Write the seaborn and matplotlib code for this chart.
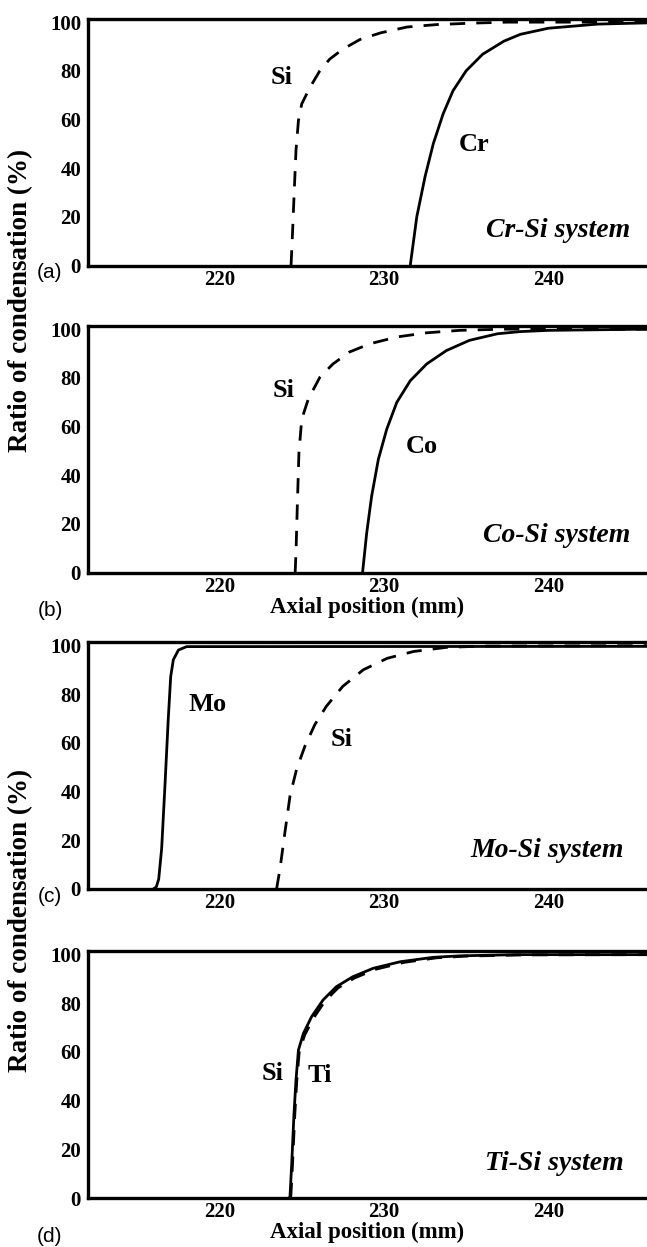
import matplotlib
matplotlib.use("Agg")
import matplotlib.pyplot as plt
from matplotlib.ticker import MultipleLocator
import pandas as pd
import seaborn as sns

# ---- condensation ratio (%) versus axial position (mm) ----
# (a) Cr-Si system
cr_x = [231.6, 232.0, 232.5, 233.0, 233.6, 234.2, 235.0, 236.0, 237.3, 238.3, 240.0, 243.0, 246.0]
cr_y = [0, 20.1, 36.5, 50.0, 62.3, 71.8, 80.0, 86.8, 92.2, 95.0, 97.5, 99.2, 99.7]
cr_si_x = [224.35, 224.45, 224.53, 224.65, 224.8, 225.0, 225.5, 226.1, 226.7, 227.5,
           228.55, 229.8, 231.4, 233.2, 235.4, 237.5, 246.0]
cr_si_y = [0, 15.0, 28.3, 47.3, 59.6, 66.4, 73.2, 80.0, 84.8, 88.9,
           92.9, 95.6, 98.0, 99.0, 99.6, 100.0, 100.0]

# (b) Co-Si system
co_x = [228.7, 228.95, 229.25, 229.66, 230.17, 230.78, 231.6, 232.6, 233.8, 235.2,
        236.9, 238.3, 240.0, 246.0]
co_y = [0, 16.2, 31.3, 46.5, 58.9, 69.9, 78.8, 85.7, 91.2, 95.4,
        98.1, 99.0, 99.5, 100.0]
co_si_x = [224.6, 224.65, 224.73, 224.83, 225.0, 225.4, 226.1, 226.9, 227.9, 229.15,
           230.8, 232.6, 234.6, 237.3, 246.0]
co_si_y = [0, 8.0, 27.2, 49.3, 63.0, 71.3, 80.2, 85.7, 90.6, 94.0,
           96.8, 98.5, 99.5, 100.0, 100.0]

# (c) Mo-Si system
mo_x = [215.97, 216.15, 216.3, 216.48, 216.68, 216.88, 217.03, 217.19, 217.5, 218.0, 246.0]
mo_y = [0, 0.8, 4.0, 16.6, 42.4, 69.7, 87.3, 94.2, 98.2, 99.6, 99.7]
mo_si_x = [223.47, 223.68, 223.98, 224.29, 224.69, 225.2, 225.8, 226.5, 227.5, 228.75,
           230.2, 231.8, 233.8, 236.0, 246.0]
mo_si_y = [0, 8.4, 23.4, 38.4, 49.3, 58.8, 67.6, 75.1, 83.3, 90.1,
           94.8, 97.6, 99.3, 99.8, 100.0]

# (d) Ti-Si system
ti_x = [224.25, 224.29, 224.39, 224.53, 224.65, 224.8, 225.1, 225.6, 226.3, 227.1,
        228.1, 229.35, 231.0, 233.0, 234.6, 238.0, 246.0]
ti_y = [0, 1.0, 14.0, 34.7, 48.4, 60.8, 67.6, 74.5, 81.4, 86.8,
        90.9, 94.4, 97.1, 98.9, 99.5, 100.0, 100.0]
ti_si_x = [224.3, 224.34, 224.44, 224.58, 224.7, 224.85, 225.18, 225.7, 226.4, 227.2,
           228.2, 229.5, 231.2, 233.2, 235.0, 238.5, 246.0]
ti_si_y = [0, 1.0, 14.0, 34.7, 48.4, 60.3, 67.0, 73.8, 80.8, 86.3,
           90.4, 94.0, 96.8, 98.7, 99.4, 99.9, 100.0]

x_ticks = [220, 230, 240]
y_ticks = [0, 20, 40, 60, 80, 100]

panels = [
    dict(tag="(a)", system="Cr-Si system",
         solid=("Cr", cr_x, cr_y, (235.5, 49.8)),
         dashed=("Si", cr_si_x, cr_si_y, (223.76, 77.4)),
         sys_pos=(245.0, 14.3), xlabel=False),
    dict(tag="(b)", system="Co-Si system",
         solid=("Co", co_x, co_y, (232.3, 51.8)),
         dashed=("Si", co_si_x, co_si_y, (223.9, 74.7)),
         sys_pos=(245.0, 15.3), xlabel=True),
    dict(tag="(c)", system="Mo-Si system",
         solid=("Mo", mo_x, mo_y, (219.3, 75.8)),
         dashed=("Si", mo_si_x, mo_si_y, (227.4, 61.4)),
         sys_pos=(244.6, 15.8), xlabel=False),
    dict(tag="(d)", system="Ti-Si system",
         solid=("Ti", ti_x, ti_y, (226.1, 50.4)),
         dashed=("Si", ti_si_x, ti_si_y, (223.2, 51.1)),
         sys_pos=(244.6, 14.1), xlabel=True),
]

sns.set_style("white")
SERIF = ["Liberation Serif", "DejaVu Serif"]
plt.rcParams["font.family"] = SERIF
plt.rcParams["lines.scale_dashes"] = False
for key in ("text.color", "axes.labelcolor", "xtick.color", "ytick.color",
            "xtick.labelcolor", "ytick.labelcolor"):
    plt.rcParams[key] = "black"

W, H = 647, 1247
fig = plt.figure(figsize=(W / 100, H / 100), dpi=100)

ax_left = 88 / W
ax_w = 1 - ax_left
AX_H = 247
ax_h = AX_H / H
bottoms_px = [265.5, 572.5, 889, 1198]
tag_y_px = [273, 610, 897, 1237]
xlabel_top_px = [None, 596.5, None, 1222]

tick_font = dict(family=SERIF, weight="bold", size=15)

for i, p in enumerate(panels):
    ax = fig.add_axes([ax_left, 1 - bottoms_px[i] / H, ax_w, ax_h])

    name, xs, ys, pos = p["solid"]
    sns.lineplot(data=pd.DataFrame({"x": xs, "y": ys}), x="x", y="y", ax=ax,
                 color="black", linewidth=2.0, sort=False, estimator=None)
    ax.text(pos[0], pos[1], name, ha="center", va="center", color="black",
            fontsize=19, fontweight="bold", family=SERIF)

    name, xs, ys, pos = p["dashed"]
    sns.lineplot(data=pd.DataFrame({"x": xs, "y": ys}), x="x", y="y", ax=ax,
                 color="black", linewidth=2.0, sort=False, estimator=None,
                 linestyle=(0, (11, 8)))
    ax.text(pos[0], pos[1], name, ha="center", va="center", color="black",
            fontsize=19, fontweight="bold", family=SERIF)

    ax.text(p["sys_pos"][0], p["sys_pos"][1], p["system"], ha="right", va="center",
            color="black", fontsize=20, fontweight="bold", fontstyle="italic", family=SERIF)

    ax.set_xlim(212, 246)
    ax.set_ylim(0, 101.5)
    ax.set_xticks(x_ticks)
    ax.set_yticks(y_ticks)
    ax.xaxis.set_minor_locator(MultipleLocator(2))
    ax.yaxis.set_minor_locator(MultipleLocator(4))
    ax.set_xticklabels([str(v) for v in x_ticks], fontdict=tick_font)
    ax.set_yticklabels([str(v) for v in y_ticks], fontdict=tick_font)
    ax.tick_params(which="major", direction="in", length=10.5, width=1.7,
                   top=False, right=False, color="black", labelcolor="black")
    ax.tick_params(axis="x", which="major", pad=3)
    ax.tick_params(axis="y", which="major", pad=5)
    ax.tick_params(which="minor", direction="in", length=5, width=1.0,
                   top=False, right=False, color="black")
    for side in ("left", "bottom", "top"):
        ax.spines[side].set_linewidth(2.4)
        ax.spines[side].set_color("black")
    ax.spines["right"].set_visible(False)

    ax.set_ylabel("")
    if p["xlabel"]:
        ax.set_xlabel("Axial position (mm)", fontsize=16.5, fontweight="bold",
                      family=SERIF, color="black")
        ax.xaxis.set_label_coords(0.5, (bottoms_px[i] - xlabel_top_px[i]) / AX_H)
    else:
        ax.set_xlabel("")

    fig.text(50 / W, 1 - tag_y_px[i] / H, p["tag"], ha="center", va="center",
             color="black", fontsize=15, family=["Liberation Sans", "DejaVu Sans"])

for yc in (300, 920):
    fig.text(21 / W, 1 - yc / H, "Ratio of condensation (%)", rotation=90,
             ha="center", va="center", color="black", fontsize=19.5,
             fontweight="bold", family=SERIF)

fig.savefig("out.png", dpi=100, facecolor="white")
